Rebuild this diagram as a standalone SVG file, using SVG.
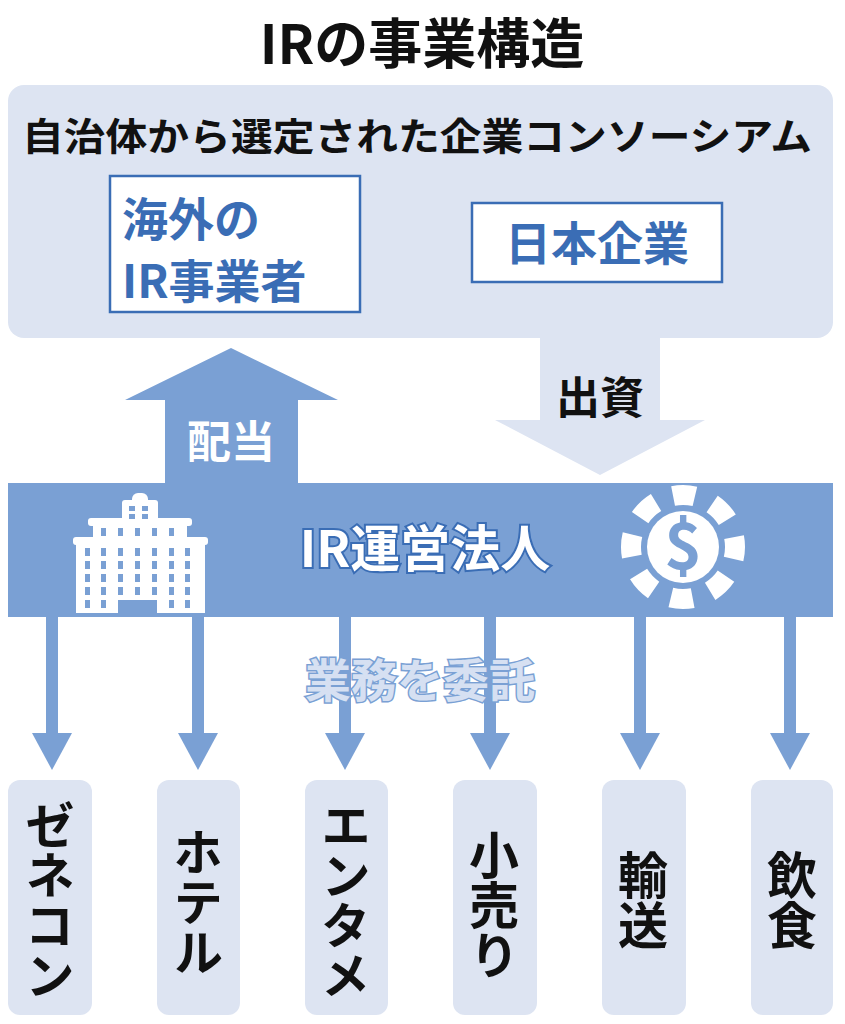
<svg xmlns="http://www.w3.org/2000/svg" width="845" height="1024" viewBox="0 0 845 1024">
<style>
text{font-family:"Noto Sans CJK JP","Noto Sans",sans-serif;font-weight:bold}
.lt{fill:#dde4f2}.md{fill:#7aa0d4}
.bx{fill:#fff;stroke:#3a6db5;stroke-width:2.5}
.bt{fill:#3a6db5;font-size:46px}
.vt{font-size:50px;fill:#111;writing-mode:vertical-rl;text-orientation:upright;text-anchor:middle}
</style>
<rect width="845" height="1024" fill="#fff"/>
<text x="422" y="64" font-size="54" text-anchor="middle" fill="#111">IRの事業構造</text>
<g id="consortium">
<rect x="8" y="85" width="825" height="253" rx="16" class="lt"/>
<text x="417" y="150" font-size="38" text-anchor="middle" fill="#111" textLength="790" lengthAdjust="spacingAndGlyphs">自治体から選定された企業コンソーシアム</text>
</g>
<g id="foreign"><rect x="110" y="176" width="250" height="136" class="bx"/>
<text x="122" y="236" class="bt">海外の</text><text x="122" y="298" class="bt">IR事業者</text></g>
<g id="japan"><rect x="472" y="203" width="250" height="79" class="bx"/>
<text x="597" y="260" class="bt" text-anchor="middle">日本企業</text></g>
<g id="connectors">
<polygon class="md" points="165,483 165,400 125,400 231,348 338,400 298,400 298,483"/>
<text x="231" y="458" font-size="44" fill="#fff" text-anchor="middle">配当</text>
<polygon class="lt" points="540,338 660,338 660,420 705,420 600,475 495,420 540,420"/>
<text x="600" y="414" font-size="44" fill="#111" text-anchor="middle">出資</text>
<g class="md">
<rect x="46" y="610" width="12" height="125"/><polygon points="32,733 72,733 52,770"/>
<rect x="192" y="610" width="12" height="125"/><polygon points="178,733 218,733 198,770"/>
<rect x="339" y="610" width="12" height="125"/><polygon points="325,733 365,733 345,770"/>
<rect x="484" y="610" width="12" height="125"/><polygon points="470,733 510,733 490,770"/>
<rect x="634" y="610" width="12" height="125"/><polygon points="620,733 660,733 640,770"/>
<rect x="784" y="610" width="12" height="125"/><polygon points="770,733 810,733 790,770"/>
</g>
<text x="420" y="697" font-size="46" fill="#d6e0f2" text-anchor="middle" stroke="#7aa0d4" stroke-width="3" paint-order="stroke">業務を委託</text>
</g>
<g id="operator">
<rect x="8" y="483" width="825" height="134" class="md"/>
<text x="425" y="567" font-size="50" text-anchor="middle" fill="#fff" stroke="#3a6db5" stroke-width="4" paint-order="stroke">IR運営法人</text>
<g fill="#fff">
<rect x="132" y="493" width="16" height="14" rx="6"/>
<rect x="122" y="500" width="36" height="22" rx="3"/>
<rect x="88" y="518" width="104" height="8" rx="3"/>
<rect x="93" y="524" width="94" height="16"/>
<rect x="73" y="537" width="135" height="8" rx="3"/>
<rect x="76" y="543" width="129" height="70"/>
</g>
<g fill="#7aa0d4">
<rect x="129" y="506" width="6" height="5"/><rect x="142" y="506" width="6" height="5"/>
<rect x="129" y="514" width="6" height="5"/><rect x="142" y="514" width="6" height="5"/>
<rect x="101" y="528" width="5" height="8"/><rect x="118" y="528" width="5" height="8"/><rect x="135" y="528" width="5" height="8"/><rect x="152" y="528" width="5" height="8"/><rect x="169" y="528" width="5" height="8"/>
<rect x="85" y="548" width="5" height="8"/><rect x="101" y="548" width="5" height="8"/><rect x="118" y="548" width="5" height="8"/><rect x="135" y="548" width="5" height="8"/><rect x="152" y="548" width="5" height="8"/><rect x="169" y="548" width="5" height="8"/><rect x="185" y="548" width="5" height="8"/>
<rect x="85" y="561" width="5" height="8"/><rect x="101" y="561" width="5" height="8"/><rect x="118" y="561" width="5" height="8"/><rect x="135" y="561" width="5" height="8"/><rect x="152" y="561" width="5" height="8"/><rect x="169" y="561" width="5" height="8"/><rect x="185" y="561" width="5" height="8"/>
<rect x="85" y="574" width="5" height="8"/><rect x="101" y="574" width="5" height="8"/><rect x="118" y="574" width="5" height="8"/><rect x="135" y="574" width="5" height="8"/><rect x="152" y="574" width="5" height="8"/><rect x="169" y="574" width="5" height="8"/><rect x="185" y="574" width="5" height="8"/>
<rect x="85" y="587" width="5" height="8"/><rect x="101" y="587" width="5" height="8"/><rect x="118" y="587" width="5" height="8"/><rect x="135" y="587" width="5" height="8"/><rect x="152" y="587" width="5" height="8"/><rect x="169" y="587" width="5" height="8"/><rect x="185" y="587" width="5" height="8"/>
<rect x="85" y="600" width="5" height="8"/><rect x="101" y="600" width="5" height="8"/><rect x="169" y="600" width="5" height="8"/><rect x="185" y="600" width="5" height="8"/>
<rect x="118" y="600" width="39" height="13"/>
</g>
<g transform="translate(683,547)">
<circle r="36" fill="#fff"/>
<circle r="52" fill="none" stroke="#fff" stroke-width="20" stroke-dasharray="22 18.84" transform="rotate(-101)"/>
<text y="22" font-size="64" fill="#7aa0d4" text-anchor="middle" font-family="Liberation Sans">$</text>
</g>
</g>
<g id="contractors">
<rect x="8" y="780" width="84" height="235" rx="12" class="lt"/><text x="50" y="900" class="vt">ゼネコン</text>
<rect x="157" y="780" width="83" height="235" rx="12" class="lt"/><text x="198" y="902" class="vt">ホテル</text>
<rect x="305" y="780" width="83" height="235" rx="12" class="lt"/><text x="346" y="900" class="vt">エンタメ</text>
<rect x="453" y="780" width="84" height="235" rx="12" class="lt"/><text x="494" y="905" class="vt">小売り</text>
<rect x="602" y="780" width="84" height="235" rx="12" class="lt"/><text x="643" y="900" class="vt">輸送</text>
<rect x="751" y="780" width="82" height="235" rx="12" class="lt"/><text x="792" y="900" class="vt">飲食</text>
</g>
</svg>
